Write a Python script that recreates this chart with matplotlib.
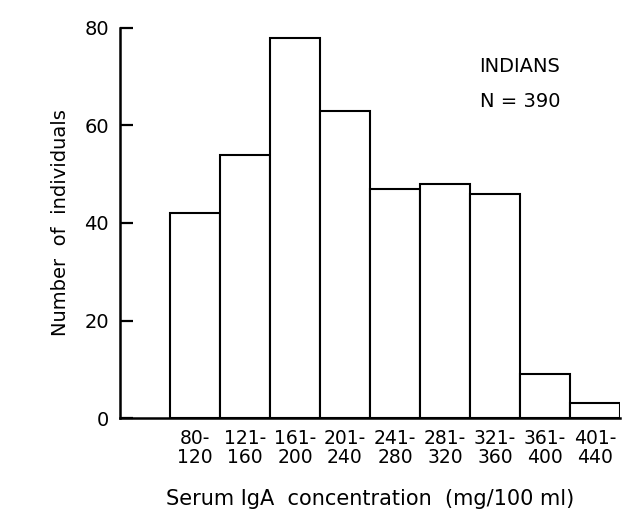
import numpy as np
import matplotlib.pyplot as plt

# serum IgA histogram, Indians
bin_left = [80, 120, 160, 200, 240, 280, 320, 360, 400]
counts = [42, 54, 78, 63, 47, 48, 46, 9, 3]
bin_labels = ["80-\n120", "121-\n160", "161-\n200", "201-\n240", "241-\n280",
              "281-\n320", "321-\n360", "361-\n400", "401-\n440"]
y_ticks = [0, 20, 40, 60, 80]

plt.rcParams['font.family'] = ['DejaVu Sans']

fig = plt.figure(figsize=(6.26, 5.18), dpi=100)
ax = fig.add_axes([120 / 626, 100 / 518, 500 / 626, 390 / 518])

width = 40
ax.bar(bin_left, counts, width, align='edge', color='white',
       edgecolor='black', linewidth=1.5)

ax.set_xlim(40, 440)
ax.set_ylim(0, 80)

centers = np.array(bin_left) + width / 2
ax.set_xticks(centers, bin_labels, fontsize=13.5, linespacing=1.0)
ax.tick_params(axis='x', length=0, pad=8)
ax.set_yticks(y_ticks)
ax.tick_params(axis='y', direction='in', length=9, width=1.6, labelsize=14, pad=8)

for side in ['top', 'right']:
    ax.spines[side].set_visible(False)
for side in ['left', 'bottom']:
    ax.spines[side].set_linewidth(1.8)

ax.set_ylabel("Number  of  individuals", fontsize=14, labelpad=10)
ax.set_xlabel("Serum IgA  concentration  (mg/100 ml)", fontsize=15, labelpad=16)

ax.text(360, 72, "INDIANS", fontsize=14, ha='center', va='center')
ax.text(360, 65, "N = 390", fontsize=14, ha='center', va='center')

fig.savefig("out.png", dpi=100)
